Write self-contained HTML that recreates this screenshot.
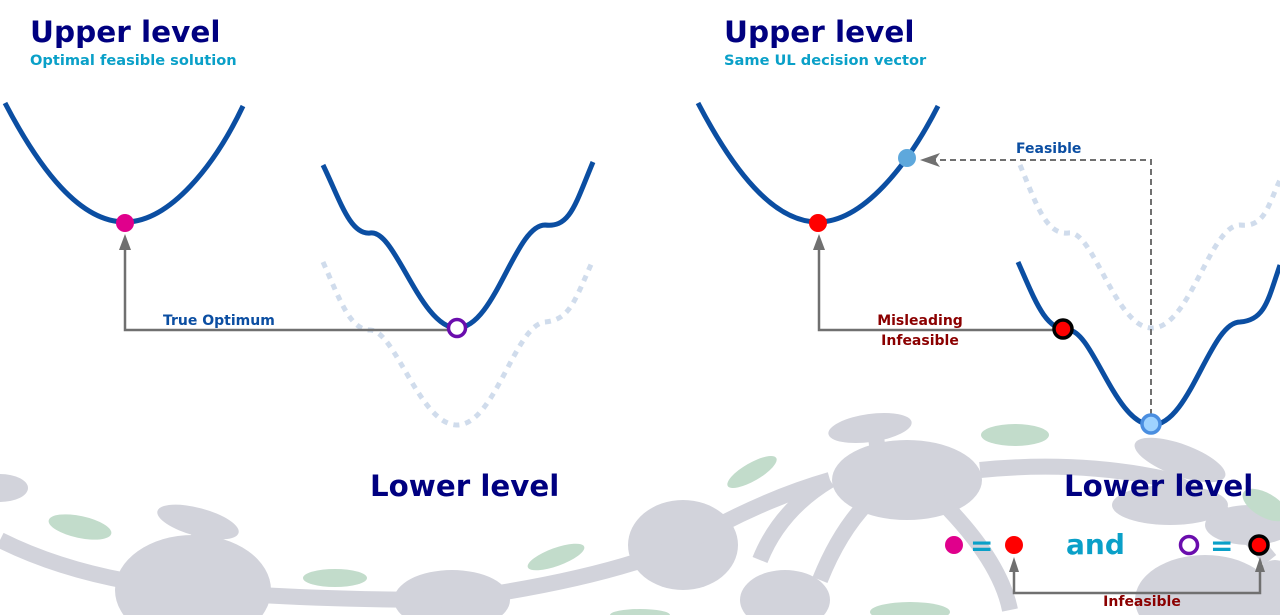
<!DOCTYPE html>
<html><head><meta charset="utf-8"><style>
html,body{margin:0;padding:0;background:#fff;}
svg{display:block;font-family:"DejaVu Sans","Liberation Sans",sans-serif;font-weight:bold;}
</style></head><body>
<svg width="1280" height="615" viewBox="0 0 1280 615" xmlns="http://www.w3.org/2000/svg">
<g fill="#d2d3db" stroke="none">
<ellipse cx="870" cy="428" rx="42" ry="14" transform="rotate(-8 870 428)"/>
<ellipse cx="907" cy="480" rx="75" ry="40"/>
<ellipse cx="683" cy="545" rx="55" ry="45"/>
<ellipse cx="452" cy="600" rx="58" ry="30"/>
<ellipse cx="193" cy="590" rx="78" ry="55"/>
<ellipse cx="198" cy="522" rx="42" ry="14" transform="rotate(15 198 522)"/>
<ellipse cx="0" cy="488" rx="28" ry="14"/>
<ellipse cx="1180" cy="460" rx="48" ry="16" transform="rotate(20 1180 460)"/>
<ellipse cx="1170" cy="505" rx="58" ry="20"/>
<ellipse cx="1250" cy="525" rx="45" ry="20"/>
<ellipse cx="785" cy="600" rx="45" ry="30"/>
<ellipse cx="1205" cy="600" rx="70" ry="45"/>
<ellipse cx="1275" cy="600" rx="25" ry="40"/>
</g>
<g fill="none" stroke="#d2d3db" stroke-width="16">
<path d="M0 540 Q80 580 193 590 Q300 600 452 600 Q600 580 683 545 Q760 500 830 480"/>
<path d="M980 470 Q1080 460 1170 480 Q1230 510 1270 560"/>
<path d="M880 470 L875 428"/>
<path d="M830 480 Q780 510 760 560"/>
<path d="M940 500 Q1000 560 1010 610"/>
<path d="M820 580 Q840 530 870 500"/>
<path d="M200 520 L198 555"/>
</g>
<g fill="#c2dccb">
<ellipse cx="1015" cy="435" rx="34" ry="11"/>
<ellipse cx="752" cy="472" rx="28" ry="9" transform="rotate(-30 752 472)"/>
<ellipse cx="80" cy="527" rx="32" ry="11" transform="rotate(12 80 527)"/>
<ellipse cx="335" cy="578" rx="32" ry="9"/>
<ellipse cx="556" cy="557" rx="30" ry="9" transform="rotate(-20 556 557)"/>
<ellipse cx="1265" cy="505" rx="25" ry="12" transform="rotate(30 1265 505)"/>
<ellipse cx="910" cy="612" rx="40" ry="10"/>
<ellipse cx="640" cy="615" rx="30" ry="6"/>
</g>

<text x="30" y="42" font-size="29.5" fill="#000080">Upper level</text>
<text x="30" y="65" font-size="14.6" fill="#0aa0c8">Optimal feasible solution</text>
<text x="724" y="42" font-size="29.5" fill="#000080">Upper level</text>
<text x="724" y="65" font-size="14.6" fill="#0aa0c8">Same UL decision vector</text>
<text x="370" y="496" font-size="29.3" fill="#000080">Lower level</text>
<text x="1064" y="496" font-size="29.3" fill="#000080">Lower level</text>

<path d="M5 103 C40 170 80 222 125 222 C170 222 215 165 243 106" fill="none" stroke="#0b4ea2" stroke-width="5"/>
<path d="M323 262 C340 300 350 330 370 330 C395 330 420 425 457 425 C495 425 515 325 545 322 C570 320 575 300 593 260" fill="none" stroke="#d0dcec" stroke-width="5" stroke-dasharray="6 6"/>
<path d="M323 165 C340 200 350 235 370 233 C395 228 420 328 457 328 C495 328 515 225 545 225 C570 228 575 205 593 162" fill="none" stroke="#0b4ea2" stroke-width="5"/>
<path d="M448 330 L125 330 L125 248" fill="none" stroke="#707070" stroke-width="2.5"/>
<polygon points="125,234 119,250 131,250" fill="#707070"/>
<text x="163" y="325" font-size="14" fill="#0b4ea2">True Optimum</text>
<circle cx="125" cy="223" r="9" fill="#e0008c"/>
<circle cx="457" cy="328" r="8.5" fill="#fff" stroke="#6a0dad" stroke-width="3.5"/>

<path d="M698 103 C733 170 773 222 818 222 C863 222 908 165 938 106" fill="none" stroke="#0b4ea2" stroke-width="5"/>
<path d="M1020 165 C1035 200 1045 235 1068 233 C1093 228 1115 328 1152 328 C1190 328 1210 225 1240 225 C1265 228 1268 205 1280 180" fill="none" stroke="#d0dcec" stroke-width="5" stroke-dasharray="6 6"/>
<path d="M1018 262 C1035 300 1045 330 1068 330 C1093 330 1115 425 1152 425 C1190 425 1210 322 1240 322 C1265 320 1268 300 1280 265" fill="none" stroke="#0b4ea2" stroke-width="5"/>
<path d="M1151 415 L1151 160 L935 160" fill="none" stroke="#707070" stroke-width="2" stroke-dasharray="6 4"/>
<polygon points="920,160 940,153 935,160 940,167" fill="#707070"/>
<text x="1016" y="153" font-size="14" fill="#0b4ea2">Feasible</text>
<path d="M1055 330 L819 330 L819 248" fill="none" stroke="#707070" stroke-width="2.5"/>
<polygon points="819,234 813,250 825,250" fill="#707070"/>
<text x="920" y="325" font-size="14" fill="#8b0000" text-anchor="middle">Misleading</text>
<text x="920" y="345" font-size="14" fill="#8b0000" text-anchor="middle">Infeasible</text>
<circle cx="818" cy="223" r="9" fill="#ff0000"/>
<circle cx="907" cy="158" r="9" fill="#5ea8dc"/>
<circle cx="1063" cy="329" r="9" fill="#ff0000" stroke="#000" stroke-width="3.5"/>
<circle cx="1151" cy="424" r="9" fill="#9fd3ff" stroke="#4a8ee0" stroke-width="3.5"/>

<circle cx="954" cy="545" r="9" fill="#e0008c"/>
<text x="970" y="555" font-size="28" fill="#0aa0c8">=</text>
<circle cx="1014" cy="545" r="9" fill="#ff0000"/>
<text x="1066" y="554" font-size="28" fill="#0aa0c8">and</text>
<circle cx="1189" cy="545" r="8.5" fill="#fff" stroke="#6a0dad" stroke-width="3.5"/>
<text x="1210" y="555" font-size="28" fill="#0aa0c8">=</text>
<circle cx="1259" cy="545" r="9" fill="#ff0000" stroke="#000" stroke-width="3.5"/>
<path d="M1014 570 L1014 593 L1260 593 L1260 570" fill="none" stroke="#707070" stroke-width="2.5"/>
<polygon points="1014,557 1009,572 1019,572" fill="#707070"/>
<polygon points="1260,557 1255,572 1265,572" fill="#707070"/>
<text x="1142" y="606" font-size="14" fill="#8b0000" text-anchor="middle">Infeasible</text>
</svg>
</body></html>
